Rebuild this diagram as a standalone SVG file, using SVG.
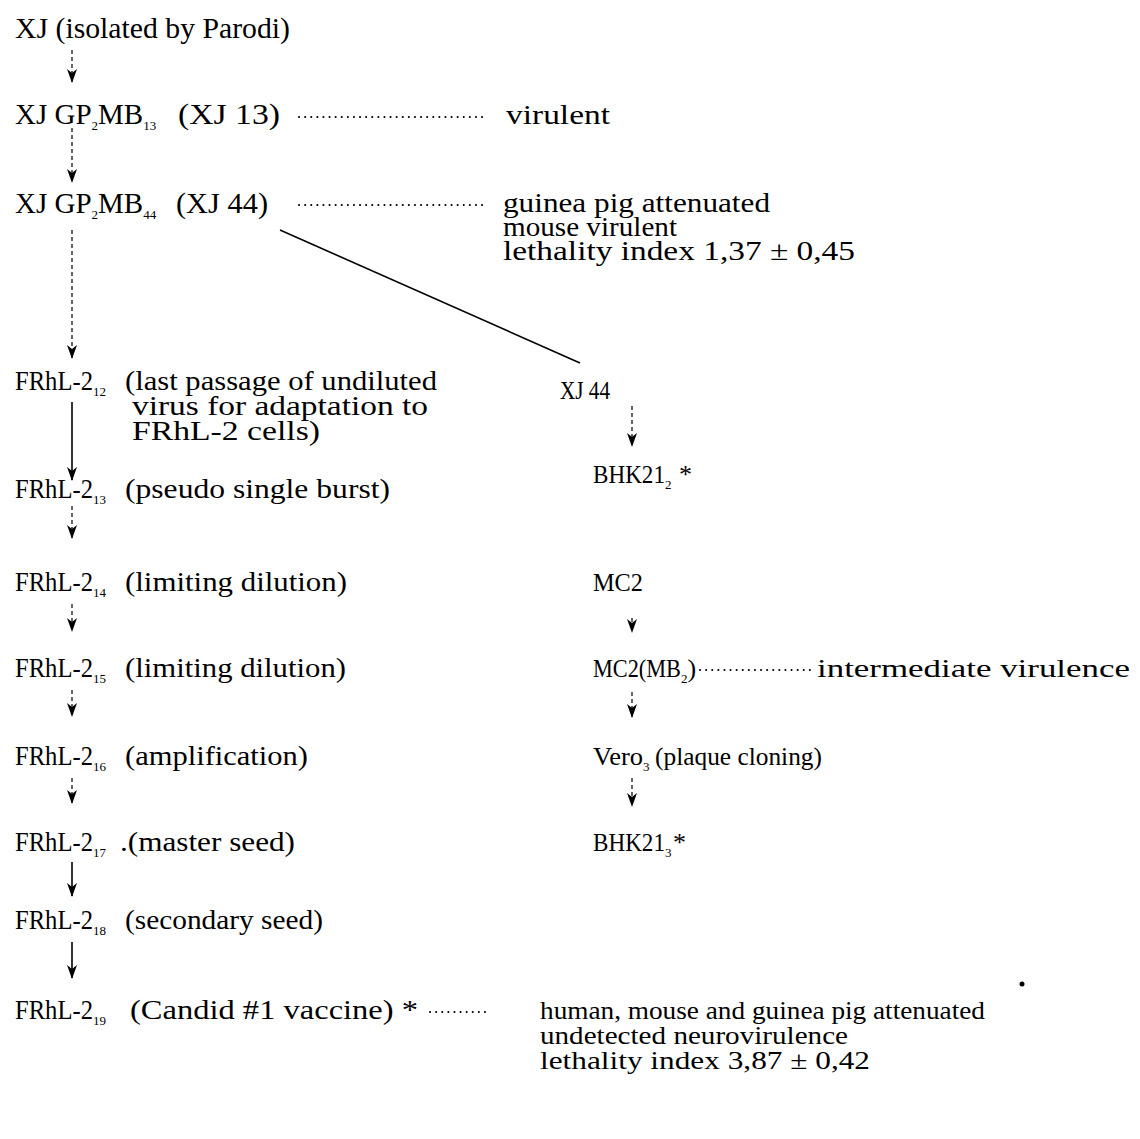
<svg xmlns="http://www.w3.org/2000/svg" width="1140" height="1139" viewBox="0 0 1140 1139">
<defs>
<marker id="ah" viewBox="0 -5 14 10" refX="13" refY="0" markerWidth="14" markerHeight="10" markerUnits="userSpaceOnUse" orient="auto">
<path d="M0,-5 L14,0 L0,5 L4,0 Z" fill="#000"/>
</marker>
<style>
text,tspan{font-family:"Liberation Serif","Times New Roman",serif;fill:#000}
.t{font-size:29px}
.f{font-size:27px}
.r{font-size:26px}
.sub{font-size:13px}
.dash{stroke:#000;stroke-width:1.2;stroke-dasharray:4 3;fill:none}
.solid{stroke:#000;stroke-width:1.6;fill:none}
.dots{stroke:#000;stroke-width:2;stroke-linecap:round;stroke-dasharray:0.1 6;fill:none}
</style>
</defs>
<rect width="1140" height="1139" fill="#fff"/>

<g id="connectors">
<line class="dash" x1="72" y1="50" x2="72" y2="82" marker-end="url(#ah)"/>
<line class="dash" x1="72" y1="128" x2="72" y2="182" marker-end="url(#ah)"/>
<line class="dash" x1="72" y1="230" x2="72" y2="358" marker-end="url(#ah)"/>
<line class="solid" x1="72" y1="402" x2="72" y2="480" marker-end="url(#ah)"/>
<line class="dash" x1="72" y1="506" x2="72" y2="538" marker-end="url(#ah)"/>
<line class="dash" x1="72" y1="604" x2="72" y2="631" marker-end="url(#ah)"/>
<line class="dash" x1="72" y1="690" x2="72" y2="716" marker-end="url(#ah)"/>
<line class="dash" x1="72" y1="778" x2="72" y2="803" marker-end="url(#ah)"/>
<line class="solid" x1="72" y1="862" x2="72" y2="896" marker-end="url(#ah)"/>
<line class="solid" x1="72" y1="942" x2="72" y2="978" marker-end="url(#ah)"/>
<line class="solid" x1="280" y1="230" x2="580" y2="363"/>
<line class="dash" x1="632" y1="406" x2="632" y2="446" marker-end="url(#ah)"/>
<line class="dash" x1="632" y1="618" x2="632" y2="632" marker-end="url(#ah)"/>
<line class="dash" x1="632" y1="692" x2="632" y2="717" marker-end="url(#ah)"/>
<line class="dash" x1="632" y1="778" x2="632" y2="806" marker-end="url(#ah)"/>
<line class="dots" x1="299" y1="117" x2="488" y2="117"/>
<line class="dots" x1="299" y1="205" x2="488" y2="205"/>
<line class="dots" x1="700" y1="670" x2="810" y2="670"/>
<line class="dots" x1="430" y1="1012" x2="490" y2="1012"/>
</g>

<g id="n-xj">
<text class="t" x="15" y="38" textLength="275" lengthAdjust="spacingAndGlyphs">XJ (isolated by Parodi)</text>
</g>
<g id="n-xj13">
<text class="t" x="15" y="124">XJ GP<tspan class="sub" dy="6">2</tspan><tspan dy="-6">MB</tspan><tspan class="sub" dy="6">13</tspan></text>
<text class="t" x="178" y="124" textLength="102" lengthAdjust="spacingAndGlyphs">(XJ 13)</text>
<text class="f" x="506" y="124" textLength="104" lengthAdjust="spacingAndGlyphs">virulent</text>
</g>
<g id="n-xj44">
<text class="t" x="15" y="213">XJ GP<tspan class="sub" dy="6">2</tspan><tspan dy="-6">MB</tspan><tspan class="sub" dy="6">44</tspan></text>
<text class="t" x="176" y="213" textLength="92" lengthAdjust="spacingAndGlyphs">(XJ 44)</text>
<text class="f" x="503" y="212" textLength="267" lengthAdjust="spacingAndGlyphs">guinea pig attenuated</text>
<text class="f" x="503" y="236" textLength="174" lengthAdjust="spacingAndGlyphs">mouse virulent</text>
<text class="f" x="503" y="260" textLength="352" lengthAdjust="spacingAndGlyphs">lethality index 1,37 ± 0,45</text>
</g>
<g id="n-f12">
<text class="f" x="15" y="390"><tspan textLength="78" lengthAdjust="spacingAndGlyphs">FRhL-2</tspan><tspan class="sub" dy="6">12</tspan></text>
<text class="f" x="125" y="390" textLength="312" lengthAdjust="spacingAndGlyphs">(last passage of undiluted</text>
<text class="f" x="132" y="415" textLength="296" lengthAdjust="spacingAndGlyphs">virus for adaptation to</text>
<text class="f" x="132" y="440" textLength="188" lengthAdjust="spacingAndGlyphs">FRhL-2 cells)</text>
</g>
<g id="n-f13">
<text class="f" x="15" y="498"><tspan textLength="78" lengthAdjust="spacingAndGlyphs">FRhL-2</tspan><tspan class="sub" dy="6">13</tspan></text>
<text class="f" x="125" y="498" textLength="265" lengthAdjust="spacingAndGlyphs">(pseudo single burst)</text>
</g>
<g id="n-f14">
<text class="f" x="15" y="591"><tspan textLength="78" lengthAdjust="spacingAndGlyphs">FRhL-2</tspan><tspan class="sub" dy="6">14</tspan></text>
<text class="f" x="125" y="591" textLength="222" lengthAdjust="spacingAndGlyphs">(limiting dilution)</text>
</g>
<g id="n-f15">
<text class="f" x="15" y="677"><tspan textLength="78" lengthAdjust="spacingAndGlyphs">FRhL-2</tspan><tspan class="sub" dy="6">15</tspan></text>
<text class="f" x="125" y="677" textLength="221" lengthAdjust="spacingAndGlyphs">(limiting dilution)</text>
</g>
<g id="n-f16">
<text class="f" x="15" y="765"><tspan textLength="78" lengthAdjust="spacingAndGlyphs">FRhL-2</tspan><tspan class="sub" dy="6">16</tspan></text>
<text class="f" x="125" y="765" textLength="183" lengthAdjust="spacingAndGlyphs">(amplification)</text>
</g>
<g id="n-f17">
<text class="f" x="15" y="851"><tspan textLength="78" lengthAdjust="spacingAndGlyphs">FRhL-2</tspan><tspan class="sub" dy="6">17</tspan></text>
<text class="f" x="120" y="851" textLength="175" lengthAdjust="spacingAndGlyphs">.(master seed)</text>
</g>
<g id="n-f18">
<text class="f" x="15" y="929"><tspan textLength="78" lengthAdjust="spacingAndGlyphs">FRhL-2</tspan><tspan class="sub" dy="6">18</tspan></text>
<text class="f" x="125" y="929" textLength="198" lengthAdjust="spacingAndGlyphs">(secondary seed)</text>
</g>
<g id="n-f19">
<text class="f" x="15" y="1019"><tspan textLength="78" lengthAdjust="spacingAndGlyphs">FRhL-2</tspan><tspan class="sub" dy="6">19</tspan></text>
<text class="f" x="130" y="1019" textLength="288" lengthAdjust="spacingAndGlyphs">(Candid #1  vaccine) *</text>
<text class="r" x="540" y="1019" textLength="445" lengthAdjust="spacingAndGlyphs">human, mouse and guinea pig attenuated</text>
<text class="r" x="540" y="1044" textLength="308" lengthAdjust="spacingAndGlyphs">undetected neurovirulence</text>
<text class="r" x="540" y="1069" textLength="330" lengthAdjust="spacingAndGlyphs">lethality index 3,87 ± 0,42</text>
</g>
<g id="n-xj44b">
<text class="r" x="560" y="399" textLength="50" lengthAdjust="spacingAndGlyphs">XJ 44</text>
</g>
<g id="n-bhk2">
<text class="r" x="593" y="483"><tspan textLength="72" lengthAdjust="spacingAndGlyphs">BHK21</tspan><tspan class="sub" dy="6">2</tspan><tspan dy="-6" x="679">*</tspan></text>
</g>
<g id="n-mc2">
<text class="r" x="593" y="591" textLength="50" lengthAdjust="spacingAndGlyphs">MC2</text>
</g>
<g id="n-mc2mb">
<text class="r" x="593" y="677"><tspan textLength="88" lengthAdjust="spacingAndGlyphs">MC2(MB</tspan><tspan class="sub" dy="6">2</tspan><tspan dy="-6">)</tspan></text>
<text class="r" x="817" y="677" textLength="313" lengthAdjust="spacingAndGlyphs">intermediate virulence</text>
</g>
<g id="n-vero">
<text class="r" x="593" y="765"><tspan textLength="50" lengthAdjust="spacingAndGlyphs">Vero</tspan><tspan class="sub" dy="6">3</tspan><tspan dy="-6" x="655" textLength="167" lengthAdjust="spacingAndGlyphs">(plaque cloning)</tspan></text>
</g>
<g id="n-bhk3">
<text class="r" x="593" y="851"><tspan textLength="72" lengthAdjust="spacingAndGlyphs">BHK21</tspan><tspan class="sub" dy="6">3</tspan><tspan dy="-6" x="673">*</tspan></text>
</g>
<circle cx="1022" cy="984" r="2.5" fill="#000"/>
</svg>
